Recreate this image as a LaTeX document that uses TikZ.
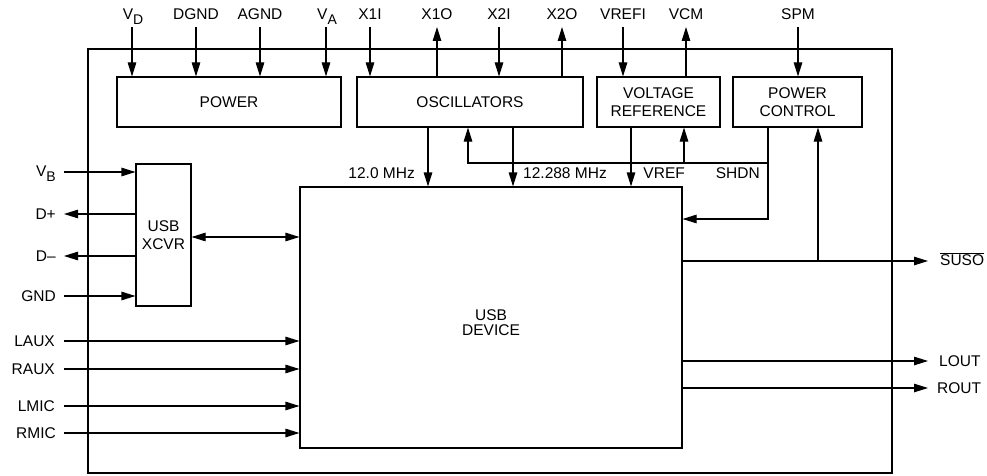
\documentclass[tikz,border=0pt]{standalone}
\usepackage{fontspec}
\setmainfont{Liberation Sans}
\usetikzlibrary{arrows.meta,calc}
\newcommand{\mysub}[1]{\smash{\raisebox{-5pt}{\fontsize{14}{14}\selectfont #1}}}
\begin{document}
\begin{tikzpicture}[x=1pt,y=-1pt,
  every node/.style={font=\fontsize{15.5}{18}\selectfont},
  ln/.style={line width=1.1pt},
  arr/.style={ln,-{Triangle[length=14pt,width=8.5pt]}},
  arrb/.style={ln,{Triangle[length=14pt,width=8.5pt]}-{Triangle[length=14pt,width=8.5pt]}},
  blk/.style={draw,line width=1.1pt,inner sep=0pt,align=center},
  lbl/.style={inner sep=0pt}
]
\useasboundingbox (0,0) rectangle (987,476);
% outer chip
\node[draw,line width=1.1pt,minimum width=804pt,minimum height=424pt,inner sep=0pt] (chip) at (490,261) {};
% blocks
\node[blk,minimum width=224pt,minimum height=50pt] (power) at (229,102) {POWER};
\node[blk,minimum width=226pt,minimum height=50pt] (osc) at (470,102) {OSCILLATORS};
\node[blk,minimum width=123pt,minimum height=50pt] (vref) at (658.5,102) {VOLTAGE\\REFERENCE};
\node[blk,minimum width=129pt,minimum height=50pt] (pctl) at (797.5,102) {POWER\\CONTROL};
\node[blk,minimum width=55pt,minimum height=142pt] (xcvr) at (163.5,235) {USB\\XCVR};
\node[blk,minimum width=382pt,minimum height=261pt,font=\fontsize{15.5}{16.5}\selectfont,text depth=0pt] (dev) at (491,317.5) {\raisebox{-2pt}{\begin{tabular}{@{}c@{}}USB\\[-1.5pt]DEVICE\end{tabular}}};
% top terminals
\foreach \n/\x in {VD/132,DGND/196,AGND/260,VA/326,XiI/370,XiO/437,XiiI/499,XiiO/562,VREFI/623,VCM/686,SPM/798}
  \coordinate (t\n) at (\x,27);
\node[lbl,anchor=base] (lVD) at ($(tVD)+(1,-7)$) {V\mysub{D}};
\node[lbl,anchor=base] (lDGND) at ($(tDGND)+(0,-7)$) {DGND};
\node[lbl,anchor=base] (lAGND) at ($(tAGND)+(0,-7)$) {AGND};
\node[lbl,anchor=base] (lVA) at ($(tVA)+(1,-7)$) {V\mysub{A}};
\node[lbl,anchor=base] (lXiI) at ($(tXiI)+(0,-7)$) {X1I};
\node[lbl,anchor=base] (lXiO) at ($(tXiO)+(0,-7)$) {X1O};
\node[lbl,anchor=base] (lXiiI) at ($(tXiiI)+(0,-7)$) {X2I};
\node[lbl,anchor=base] (lXiiO) at ($(tXiiO)+(0,-7)$) {X2O};
\node[lbl,anchor=base] (lVREFI) at ($(tVREFI)+(0,-7)$) {VREFI};
\node[lbl,anchor=base] (lVCM) at ($(tVCM)+(0,-7)$) {VCM};
\node[lbl,anchor=base] (lSPM) at ($(tSPM)+(0,-7)$) {SPM};
\foreach \n in {VD,DGND,AGND,VA} \draw[arr] (t\n) -- (t\n |- power.north);
\foreach \n in {XiI,XiiI} \draw[arr] (t\n) -- (t\n |- osc.north);
\foreach \n in {XiO,XiiO} \draw[arr] (t\n |- osc.north) -- (t\n);
\draw[arr] (tVREFI) -- (tVREFI |- vref.north);
\draw[arr] (tVCM |- vref.north) -- (tVCM);
\draw[arr] (tSPM) -- (tSPM |- pctl.north);
% left terminals
\foreach \n/\y in {VB/172,Dp/214,Dm/256,GND/296,LAUX/341,RAUX/369,LMIC/406,RMIC/433}
  \coordinate (s\n) at (64,\y);
\node[lbl,anchor=base east] (lVB) at ($(sVB)+(-8,4)$) {V\mysub{B}};
\node[lbl,anchor=base east] (lDp) at ($(sDp)+(-8,5.5)$) {D+};
\node[lbl,anchor=base east] (lDm) at ($(sDm)+(-8,5.5)$) {D–};
\node[lbl,anchor=base east] (lGND) at ($(sGND)+(-8,5.5)$) {GND};
\node[lbl,anchor=base east] (lLAUX) at ($(sLAUX)+(-9,5.5)$) {LAUX};
\node[lbl,anchor=base east] (lRAUX) at ($(sRAUX)+(-9,5.5)$) {RAUX};
\node[lbl,anchor=base east] (lLMIC) at ($(sLMIC)+(-9,5.5)$) {LMIC};
\node[lbl,anchor=base east] (lRMIC) at ($(sRMIC)+(-8,5.5)$) {RMIC};
\draw[arr] (sVB) -- (sVB -| xcvr.west);
\draw[arr] (sGND) -- (sGND -| xcvr.west);
\draw[arr] (sDp -| xcvr.west) -- (sDp);
\draw[arr] (sDm -| xcvr.west) -- (sDm);
\foreach \n in {LAUX,RAUX,LMIC,RMIC} \draw[arr] (s\n) -- (s\n -| dev.west);
\draw[arrb] ([yshift=-2pt]xcvr.east) -- ([yshift=-2pt]xcvr.east -| dev.west);
% right terminals
\coordinate (oSUSO) at (928,261);
\coordinate (oLOUT) at (928,361);
\coordinate (oROUT) at (928,388);
\node[lbl,anchor=base west] (lSUSO) at ($(oSUSO)+(12,4.5)$) {$\overline{\hbox{SUSO}}$};
\node[lbl,anchor=base west] (lLOUT) at ($(oLOUT)+(11,5.5)$) {LOUT};
\node[lbl,anchor=base west] (lROUT) at ($(oROUT)+(9,5.5)$) {ROUT};
\draw[arr] (oSUSO -| dev.east) -- (oSUSO);
\draw[arr] (oLOUT -| dev.east) -- (oLOUT);
\draw[arr] (oROUT -| dev.east) -- (oROUT);
% internal
\coordinate (cA) at (428,0);
\coordinate (cB) at (513,0);
\coordinate (cV) at (631,0);
\draw[arr] (cA |- osc.south) -- (cA |- dev.north);
\draw[arr] (cB |- osc.south) -- (cB |- dev.north);
\draw[arr] (cV |- vref.south) -- (cV |- dev.north);
\coordinate (j1) at (768,163);
\coordinate (fb) at (468,163);
\coordinate (vr) at (684,163);
\coordinate (j2) at (768,219);
\coordinate (sj) at (818,261);
\draw[ln] (j1 |- pctl.south) -- (j1);
\draw[arr] (j1) -- (fb) -- (fb |- osc.south);
\draw[arr] (vr) -- (vr |- vref.south);
\draw[arr] (j1) -- (j2) -- (j2 -| dev.east);
\draw[arr] (sj) -- (sj |- pctl.south);
\node[lbl,anchor=base east] (l12) at (415,178.5) {12.0 MHz};
\node[lbl,anchor=base west] (l12b) at (523,178.5) {12.288 MHz};
\node[lbl,anchor=base east] (lvrf) at (685,178.5) {VREF};
\node[lbl,anchor=base east] (lshdn) at (760,178.5) {SHDN};
\end{tikzpicture}
\end{document}
